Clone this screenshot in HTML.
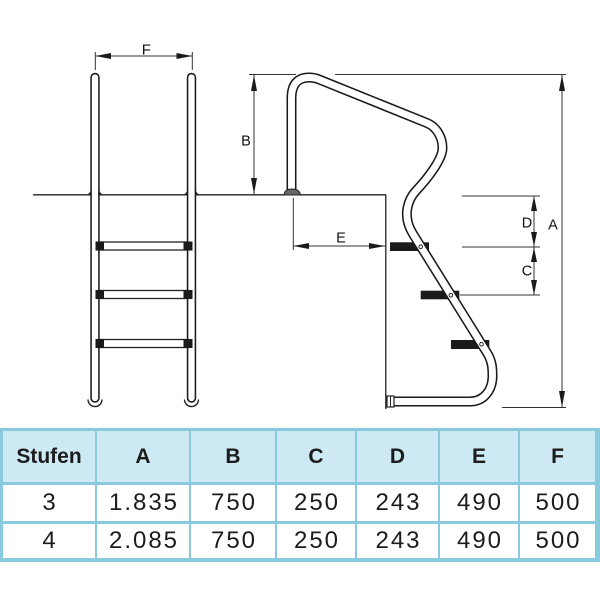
<!DOCTYPE html>
<html><head><meta charset="utf-8"><style>
html,body{margin:0;padding:0;background:#fff;}
#root{position:relative;width:600px;height:600px;overflow:hidden;background:#fff;}
#tbl{position:absolute;left:0;top:428px;width:600px;height:134px;background:#89cadf;}
.c{position:absolute;display:flex;align-items:center;justify-content:center;color:#1c1c1c;font-family:"Liberation Sans",sans-serif;}
.h{background:#cde9f3;font-weight:bold;font-size:21px;}
.d{background:#fff;font-size:24px;letter-spacing:2px;text-indent:2px;}
</style></head><body><div id="root">
<svg width="600" height="428" style="position:absolute;left:0;top:0" xmlns="http://www.w3.org/2000/svg">
<g fill="none" stroke="#222" stroke-width="1.3">
<line x1="33" y1="194.8" x2="386" y2="194.8"/>
<line x1="385.8" y1="194.8" x2="385.8" y2="409"/>
</g>
<g stroke="#333" stroke-width="1" fill="none">
<line x1="95.3" y1="52" x2="95.3" y2="70"/>
<line x1="192.3" y1="52" x2="192.3" y2="70"/>
<line x1="95.3" y1="56" x2="192.3" y2="56"/>
<line x1="249" y1="74.5" x2="296" y2="74.5"/>
<line x1="335" y1="74.5" x2="566" y2="74.5"/>
<line x1="254" y1="75" x2="254" y2="194"/>
<line x1="562" y1="75" x2="562" y2="407"/>
<line x1="502" y1="407.5" x2="566" y2="407.5"/>
<line x1="293.3" y1="198" x2="293.3" y2="250"/>
<line x1="293.3" y1="246" x2="385" y2="246"/>
<line x1="462" y1="196" x2="540" y2="196"/>
<line x1="462" y1="247" x2="540" y2="247"/>
<line x1="460" y1="295" x2="540" y2="295"/>
<line x1="534" y1="196" x2="534" y2="295"/>
</g>
<g fill="#1a1a1a">
<polygon points="95.3,56 111,53 111,59"/>
<polygon points="192.3,56 176.5,53 176.5,59"/>
<polygon points="254,75 251,91 257,91"/>
<polygon points="254,194 251,178 257,178"/>
<polygon points="562,75 559,91 565,91"/>
<polygon points="562,407 559,391 565,391"/>
<polygon points="293.3,246 309,243 309,249"/>
<polygon points="385,246 369,243 369,249"/>
<polygon points="534,196 531,211 537,211"/>
<polygon points="534,246.5 531,232 537,232"/>
<polygon points="534,247.5 531,262 537,262"/>
<polygon points="534,295 531,280 537,280"/>
</g>
<g font-family="Liberation Sans, sans-serif" font-size="14.5" fill="#111" text-anchor="middle">
<text x="146.3" y="54.5" font-size="15">F</text>
<text x="246" y="145.5">B</text>
<text x="341" y="242.5">E</text>
<text x="527" y="227.5">D</text>
<text x="527" y="275.5">C</text>
<text x="553" y="229.5">A</text>
</g>
<!-- left ladder -->
<g fill="#222">
<path d="M86.5,194.8 Q90,193.5 90.8,190 L90.8,194.8 Z"/>
<path d="M103.5,194.8 Q100,193.5 99.2,190 L99.2,194.8 Z"/>
<path d="M183,194.8 Q186.5,193.5 187.3,190 L187.3,194.8 Z"/>
<path d="M200,194.8 Q196.5,193.5 195.7,190 L195.7,194.8 Z"/>
</g>
<g fill="none" stroke-linecap="round">
<path d="M95,77.5 V398" stroke="#1a1a1a" stroke-width="9.4"/>
<path d="M95,77.5 V398" stroke="#fff" stroke-width="6.3"/>
<path d="M191.5,77.5 V398" stroke="#1a1a1a" stroke-width="9.4"/>
<path d="M191.5,77.5 V398" stroke="#fff" stroke-width="6.3"/>
</g>
<g fill="none" stroke="#222" stroke-width="1.4">
<path d="M88,399.5 A7,7 0 0 0 102,399.5"/>
<path d="M184.5,399.5 A7,7 0 0 0 198.5,399.5"/>
</g>
<g stroke="#222" stroke-width="1.3" fill="#fff">
<rect x="99" y="242" width="89" height="8"/>
<rect x="99" y="290.5" width="89" height="8"/>
<rect x="99" y="339.5" width="89" height="8"/>
</g>
<g fill="#1a1a1a">
<rect x="95.5" y="241.5" width="8.5" height="9"/>
<rect x="183.5" y="241.5" width="9" height="9"/>
<rect x="95.5" y="290" width="8.5" height="9"/>
<rect x="183.5" y="290" width="9" height="9"/>
<rect x="95.5" y="339" width="8.5" height="9"/>
<rect x="183.5" y="339" width="9" height="9"/>
</g>
<!-- right steps -->
<g fill="#1a1a1a">
<rect x="390" y="242.3" width="39" height="8.7"/>
<rect x="420.7" y="290.7" width="38.6" height="8.6"/>
<rect x="451" y="340" width="38.3" height="9"/>
</g>
<!-- handrail -->
<g fill="none" stroke-linejoin="round">
<path d="M291.5,193 V98 C291.5,84 298,77.5 309,77.5 C313,77.5 316,78.2 319,79.4 L427,123 C436.3,126.8 442.5,137 442.5,148 C442.5,160 425.7,180.6 416.7,190 C409,198 401,214.8 413,234 L487.1,353 C492.4,361.5 492.5,369 492.5,376 C492.5,390 484,401.5 470,401.5 L393,401.5" stroke="#1a1a1a" stroke-width="10"/>
<path d="M291.5,193 V98 C291.5,84 298,77.5 309,77.5 C313,77.5 316,78.2 319,79.4 L427,123 C436.3,126.8 442.5,137 442.5,148 C442.5,160 425.7,180.6 416.7,190 C409,198 401,214.8 413,234 L487.1,353 C492.4,361.5 492.5,369 492.5,376 C492.5,390 484,401.5 470,401.5 L393,401.5" stroke="#fff" stroke-width="6.9"/>
</g>
<g fill="#fff" stroke="#222" stroke-width="1">
<circle cx="420.7" cy="246.7" r="1.8"/>
<circle cx="450.9" cy="295.2" r="1.8"/>
<circle cx="481.5" cy="344.2" r="1.8"/>
</g>
<path d="M284,195 Q284.5,189 292,189 Q299.5,189 300.5,195 Z" fill="#666" stroke="#222" stroke-width="1"/>
<rect x="387" y="396" width="7" height="11" fill="#fff" stroke="#222" stroke-width="1.2"/>
<line x1="390.5" y1="396" x2="390.5" y2="407" stroke="#222" stroke-width="1"/>
</svg>
<div id="tbl">
<div class="c h" style="left:3px;top:3px;width:92px;height:51px">Stufen</div>
<div class="c h" style="left:97px;top:3px;width:92px;height:51px">A</div>
<div class="c h" style="left:191px;top:3px;width:84px;height:51px">B</div>
<div class="c h" style="left:277px;top:3px;width:78px;height:51px">C</div>
<div class="c h" style="left:357px;top:3px;width:81px;height:51px">D</div>
<div class="c h" style="left:440px;top:3px;width:78px;height:51px">E</div>
<div class="c h" style="left:520px;top:3px;width:75px;height:51px">F</div>

<div class="c d" style="left:3px;top:57px;width:92px;height:36px">3</div>
<div class="c d" style="left:97px;top:57px;width:92px;height:36px">1.835</div>
<div class="c d" style="left:191px;top:57px;width:84px;height:36px">750</div>
<div class="c d" style="left:277px;top:57px;width:78px;height:36px">250</div>
<div class="c d" style="left:357px;top:57px;width:81px;height:36px">243</div>
<div class="c d" style="left:440px;top:57px;width:78px;height:36px">490</div>
<div class="c d" style="left:520px;top:57px;width:75px;height:36px">500</div>

<div class="c d" style="left:3px;top:96px;width:92px;height:34px">4</div>
<div class="c d" style="left:97px;top:96px;width:92px;height:34px">2.085</div>
<div class="c d" style="left:191px;top:96px;width:84px;height:34px">750</div>
<div class="c d" style="left:277px;top:96px;width:78px;height:34px">250</div>
<div class="c d" style="left:357px;top:96px;width:81px;height:34px">243</div>
<div class="c d" style="left:440px;top:96px;width:78px;height:34px">490</div>
<div class="c d" style="left:520px;top:96px;width:75px;height:34px">500</div>
</div>
</div></body></html>
